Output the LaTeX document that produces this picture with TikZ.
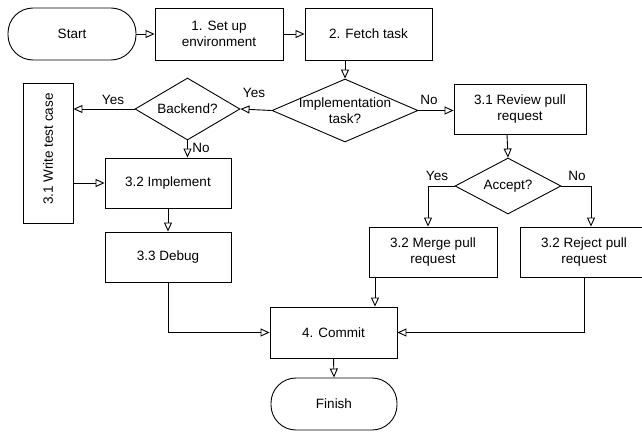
\documentclass[tikz,border=0pt]{standalone}
\usepackage{fontspec}
\setmainfont{Liberation Sans}
\usetikzlibrary{arrows.meta,shapes.geometric,calc}
\begin{document}
\begin{tikzpicture}[x=1pt,y=-1pt,
  every node/.style={font=\fontsize{13.5}{16}\selectfont, inner sep=0pt},
  plainbox/.style={draw, line width=0.9pt, rectangle},
  box/.style={plainbox, align=center},
  term/.style={draw, line width=0.9pt, rectangle, rounded corners=25pt, align=center},
  dia/.style={draw, line width=0.9pt, diamond, inner sep=0pt},
  arr/.style={line width=0.9pt, -{Triangle[open,length=9pt,width=8pt]}},
  lbl/.style={}]
\useasboundingbox (0,0) rectangle (642,431);

\node[term, minimum width=128, minimum height=52] (start) at (72,34) {Start};
\node[box, minimum width=128, minimum height=52] (s1) at (219,34) {1. Set up\\environment};
\node[box, minimum width=127, minimum height=52] (s2) at (368.5,34) {2. Fetch task};

\node[dia, minimum width=146, minimum height=63, label={[align=center]center:Implementation\\task?}] (impl) at (345,110.5) {};
\node[dia, minimum width=105, minimum height=62, label=center:Backend?] (backend) at (187.5,109) {};
\node[plainbox, minimum width=50, minimum height=140] (wtc) at (48,153) {};
\node[rotate=90] (wtctext) at ($(wtc.center)+(0,-4)$) {3.1 Write test case};
\node[box, minimum width=126, minimum height=50] (imp32) at (168,183) {3.2 Implement};
\node[box, minimum width=126, minimum height=50] (debug) at (168,257) {3.3 Debug};

\node[box, minimum width=132, minimum height=50] (review) at (520,109) {3.1 Review pull\\request};
\node[dia, minimum width=106, minimum height=56, label=center:Accept?] (accept) at (508,186) {};
\node[box, minimum width=128, minimum height=50] (merge) at (433,252) {3.2 Merge pull\\request};
\node[box, minimum width=128, minimum height=50] (reject) at (584,252) {3.2 Reject pull\\request};

\node[box, minimum width=127, minimum height=51] (commit) at (333.5,332.5) {4. Commit};
\node[term, minimum width=126, minimum height=52] (finish) at (334,404) {Finish};

\coordinate (mx) at (375,0);
\coordinate (ax) at (428,0);
\coordinate (rx) at (591,0);
\coordinate (vx) at (507,0);

\draw[arr] (start.east) -- (s1.west);
\draw[arr] (s1.east) -- (s2.west);
\draw[arr] (impl.north |- s2.south) -- (impl.north);
\draw[arr] (impl.west) -- (backend.east);
\draw[arr] (backend.west) -- (backend.west -| wtc.east);
\draw[arr] (backend.south) -- (backend.south |- imp32.north);
\draw[arr] (imp32.west -| wtc.east) -- (imp32.west);
\draw[arr] (imp32.south) -- (debug.north);
\draw[arr] (debug.south) |- (commit.west);
\draw[arr] (impl.east) -- (impl.east -| review.west);
\draw[arr] (vx |- review.south) -- (accept.north);
\draw[arr] (accept.west) -| (ax |- merge.north);
\draw[arr] (accept.east) -| (rx |- reject.north);
\draw[arr] (mx |- merge.south) -- (mx |- commit.north);
\draw[arr] (reject.south) |- (commit.east);
\draw[arr] (commit.south) -- (finish.north);

\node[lbl] (l1) at (254,93) {Yes};
\node[lbl] (l2) at (429,100) {No};
\node[lbl] (l3) at (113,100) {Yes};
\node[lbl] (l4) at (201,148) {No};
\node[lbl] (l5) at (437,176) {Yes};
\node[lbl] (l6) at (577,176) {No};
\end{tikzpicture}
\end{document}
